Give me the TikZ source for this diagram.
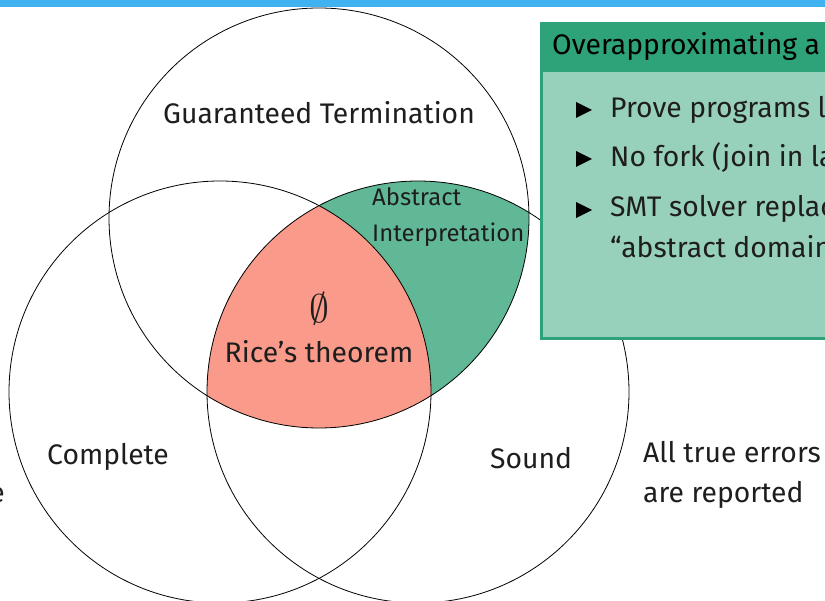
\documentclass[tikz,border=0pt]{standalone}
\usepackage{fontspec}
\setmainfont{Fira Sans}
\definecolor{topblue}{RGB}{64,178,240}
\definecolor{hdrgreen}{RGB}{46,162,121}
\definecolor{bodygreen}{RGB}{152,209,187}
\definecolor{regiongreen}{RGB}{96,184,150}
\definecolor{regionpink}{RGB}{249,154,138}
\definecolor{txt}{RGB}{30,30,30}
\tikzset{
  vcirc/.style={draw=black, line width=0.8pt},
  lbl/.style={inner sep=0pt, text=txt, font=\fontsize{28.3}{32}\selectfont},
  smalllbl/.style={inner sep=0pt, text=txt, font=\fontsize{23.9}{28}\selectfont},
  bul/.style={fill=black}
}
\begin{document}
\begin{tikzpicture}[x=1pt,y=-1pt]
\useasboundingbox (0,0) rectangle (825,601);
\clip (0,0) rectangle (825,601);
\fill[white] (0,0) rectangle (825,601);
% regions
\begin{scope}
  \clip (319,218) circle[radius=210pt];
  \fill[regiongreen] (418,392) circle[radius=211pt];
  \clip (220,392) circle[radius=211pt];
  \fill[regionpink] (418,392) circle[radius=211pt];
\end{scope}
% circles
\draw[vcirc] (319,218) circle[radius=210pt];
\draw[vcirc] (220,392) circle[radius=211pt];
\draw[vcirc] (418,392) circle[radius=211pt];
% labels
\node[lbl, anchor=base] (gt) at (319,124) {Guaranteed Termination};
\node[lbl, anchor=base west] (cp) at (47,465) {Complete};
\node[lbl, anchor=base west] (sd) at (490,468) {Sound};
\node[lbl, anchor=base west] (at1) at (643,463) {All true errors};
\node[lbl, anchor=base west] (at2) at (643,502) {are reported};
\node[lbl, anchor=base east] (le) at (5,503) {e};
\node[lbl, anchor=base] (em) at (319,323) {\scalebox{1.6}{$\emptyset$}};
\node[lbl, anchor=base] (rt) at (319,363) {Rice’s theorem};
\node[smalllbl, anchor=base west] (ab1) at (372,206) {Abstract};
\node[smalllbl, anchor=base west] (ab2) at (372,242) {Interpretation};
% top bar
\fill[topblue] (0,0) rectangle (825,7);
% block
\fill[hdrgreen] (540,22) rectangle (830,340);
\fill[bodygreen] (543,72) rectangle (830,337);
\node[lbl, anchor=base west, text=black] (hd) at (552,55) {Overapproximating a};
\fill[bul] (576,102) -- (592,110) -- (576,118) -- cycle;
\fill[bul] (576,151) -- (592,159) -- (576,167) -- cycle;
\fill[bul] (576,202) -- (592,210) -- (576,218) -- cycle;
\node[lbl, anchor=base west] (b1) at (610,118) {Prove programs l};
\node[lbl, anchor=base west] (b2) at (610,167) {No fork (join in la};
\node[lbl, anchor=base west] (b3) at (610,217) {SMT solver replac};
\node[lbl, anchor=base west] (b4) at (610,258) {“abstract domain};
\end{tikzpicture}
\end{document}
